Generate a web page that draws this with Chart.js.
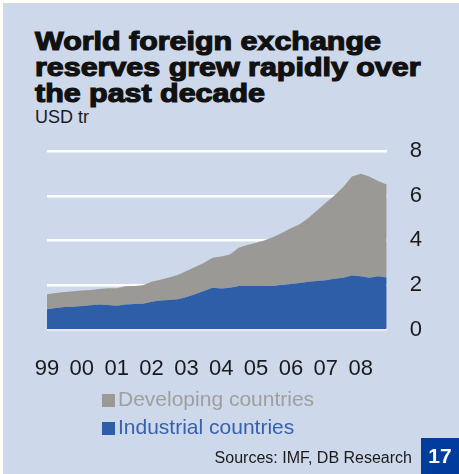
<!DOCTYPE html>
<html>
<head>
<meta charset="utf-8">
<script src="https://cdn.jsdelivr.net/npm/chart.js@4"></script>
<style>
  html, body { margin: 0; padding: 0; background: #fffef8; overflow: hidden; }
  #panel {
    position: absolute; left: 3px; top: 3px; width: 456px; height: 471px;
    background: #cdd8ea; overflow: hidden;
    font-family: "Liberation Sans", Arial, sans-serif;
  }
  #title {
    position: absolute; left: 32px; top: 25px; white-space: nowrap;
    font-size: 26px; line-height: 26px; font-weight: bold; color: #111;
    -webkit-text-stroke: 1.2px #111;
    transform: scaleX(1.17); transform-origin: 0 0;
  }
  #unit { position: absolute; left: 32px; top: 104px; font-size: 18px; color: #1a1a1a; }
  #chart { position: absolute; left: -3px; top: 112px; }
  .leg { position: absolute; left: 99px; font-size: 21px; white-space: nowrap; }
  .leg span { display: inline-block; width: 13px; height: 13px; margin-right: 3px; vertical-align: -1px; }
  #source { position: absolute; right: 47px; top: 446px; font-size: 16px; color: #1a1a1a; }
  #num {
    position: absolute; left: 418px; top: 435px; width: 38px; height: 36px;
    background: #003c9b; color: #fff; font-weight: bold; font-size: 21px;
    line-height: 36px; text-align: center;
  }
</style>
</head>
<body>
<div id="panel">
  <div id="title">World foreign exchange<br>reserves grew rapidly over<br>the past decade</div>
  <div id="unit">USD tr</div>
  <canvas id="chart" width="459" height="299"></canvas>
  <div class="leg" style="top:384px;color:#a09f9d"><span style="background:#9a9996"></span>Developing countries</div>
  <div class="leg" style="top:412px;color:#3562ae"><span style="background:#2e5ea8"></span>Industrial countries</div>
  <div id="source">Sources: IMF, DB Research</div>
  <div id="num">17</div>
</div>
<script>
// quarterly, 1999Q1 .. 2008Q4
const quarters = [
  '99Q1','99Q2','99Q3','99Q4','00Q1','00Q2','00Q3','00Q4',
  '01Q1','01Q2','01Q3','01Q4','02Q1','02Q2','02Q3','02Q4',
  '03Q1','03Q2','03Q3','03Q4','04Q1','04Q2','04Q3','04Q4',
  '05Q1','05Q2','05Q3','05Q4','06Q1','06Q2','06Q3','06Q4',
  '07Q1','07Q2','07Q3','07Q4','08Q1','08Q2','08Q3','08Q4'
];
const yTicks = [0, 2, 4, 6, 8];

// USD tr
const industrial = [
  0.91, 0.97, 1.01, 1.03, 1.06, 1.09, 1.12, 1.10,
  1.07, 1.13, 1.15, 1.16, 1.25, 1.30, 1.33, 1.36,
  1.46, 1.58, 1.73, 1.88, 1.84, 1.88, 1.96, 1.96,
  1.96, 1.96, 1.97, 2.01, 2.04, 2.09, 2.15, 2.18,
  2.21, 2.28, 2.33, 2.43, 2.39, 2.33, 2.39, 2.34
];
const developing = [
  0.67, 0.67, 0.68, 0.69, 0.69, 0.69, 0.70, 0.75,
  0.78, 0.81, 0.81, 0.83, 0.90, 0.94, 1.01, 1.09,
  1.17, 1.23, 1.26, 1.34, 1.44, 1.49, 1.71, 1.83,
  1.94, 2.05, 2.18, 2.33, 2.50, 2.63, 2.86, 3.16,
  3.48, 3.73, 4.06, 4.44, 4.60, 4.54, 4.27, 4.17
];

const GREY = '#9a9996';
const BLUE = '#2e5ea8';

new Chart(document.getElementById('chart'), {
  type: 'line',
  data: {
    labels: quarters,
    datasets: [
      { label: 'Industrial countries', data: industrial, backgroundColor: BLUE,
        fill: 'origin', borderWidth: 0, pointRadius: 0, tension: 0 },
      { label: 'Developing countries', data: developing, backgroundColor: GREY,
        fill: '-1', borderWidth: 0, pointRadius: 0, tension: 0 }
    ]
  },
  options: {
    responsive: false, animation: false,
    layout: { padding: { left: 47, right: 14, top: 16, bottom: 6 } },
    plugins: { legend: { display: false }, tooltip: { enabled: false } },
    scales: {
      x: {
        offset: false,
        grid: { display: false, drawTicks: false },
        border: { display: false },
        ticks: {
          autoSkip: false, maxRotation: 0, padding: 26,
          color: '#1a1a1a', font: { family: 'Liberation Sans', size: 22 },
          callback: (v, i) => quarters[i].endsWith('Q1') ? quarters[i].slice(0, 2) : ''
        }
      },
      y: {
        position: 'right', stacked: true, min: 0, max: 8,
        afterBuildTicks: ax => { ax.ticks = yTicks.map(v => ({ value: v })); },
        grid: { color: '#ffffff', lineWidth: 2.5, drawTicks: false },
        border: { display: false },
        ticks: {
          padding: 23, color: '#1a1a1a',
          font: { family: 'Liberation Sans', size: 22 }
        }
      }
    }
  }
});
</script>
</body>
</html>
